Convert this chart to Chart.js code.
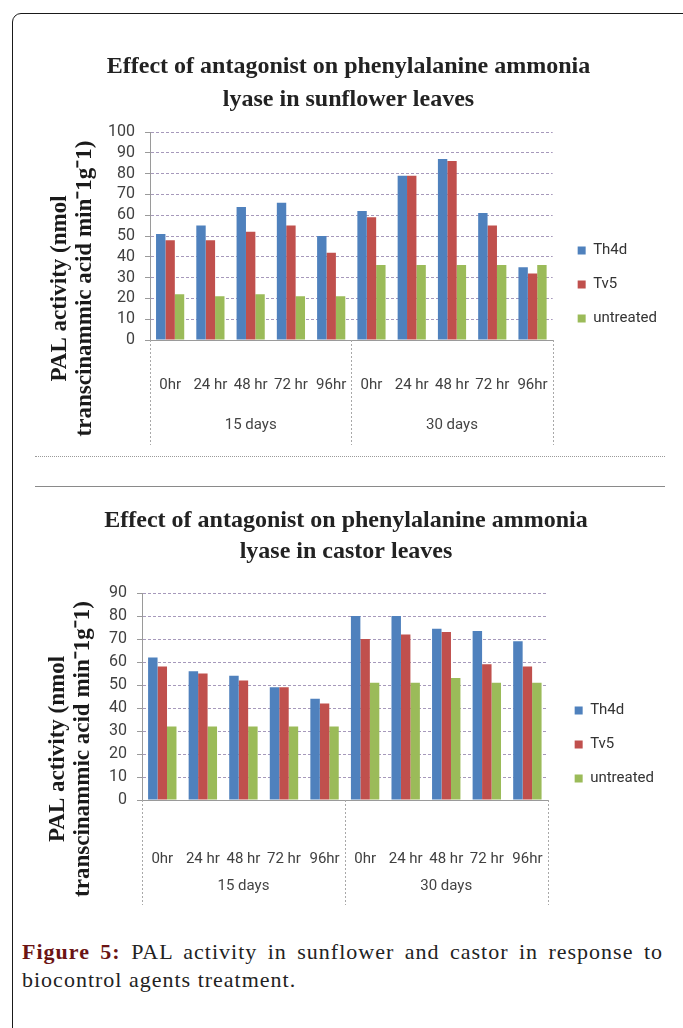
<!DOCTYPE html>
<html lang="en">
<head>
    <meta charset="UTF-8">
    <title>PAL activity in sunflower and castor</title>
    <script src="https://cdn.jsdelivr.net/npm/chart.js"></script>
    <style>
        body {
            margin: 0;
            width: 683px;
            height: 1028px;
            overflow: hidden;
            position: relative;
            background: #fff;
            font-family: 'Liberation Serif', 'Times New Roman', serif;
        }
        .frame {
            position: absolute;
            left: 12px;
            top: 13px;
            width: 740px;
            height: 1100px;
            border: 1.5px solid #1a1a1a;
            border-radius: 9px;
        }
        .chart-box {
            position: absolute;
            left: 0;
            width: 683px;
        }
        #box1 { top: 40px; height: 420px; }
        #box2 { top: 495px; height: 420px; }
        .rule1 {
            position: absolute;
            left: 35px;
            width: 630px;
            top: 456px;
            border-top: 1px dotted #9a9a9a;
        }
        .rule2 {
            position: absolute;
            left: 35px;
            width: 630px;
            top: 486px;
            border-top: 1px solid #8a8a8a;
        }
        .caption {
            position: absolute;
            left: 22px;
            top: 938px;
            width: 641px;
            font-size: 22px;
            line-height: 28px;
            letter-spacing: 1px;
            text-align: justify;
            color: #222;
        }
        .caption b { color: #6b1414; }
    </style>
</head>
<body>
    <div class="frame"></div>
    <div class="chart-box" id="box1"><canvas id="sunChart"></canvas></div>
    <div class="rule1"></div>
    <div class="rule2"></div>
    <div class="chart-box" id="box2"><canvas id="castorChart"></canvas></div>
    <div class="caption"><b>Figure 5:</b> PAL activity in sunflower and castor in response to biocontrol agents treatment.</div>

    <script>
        // categories
        const hours = ['0hr', '24 hr', '48 hr', '72 hr', '96hr', '0hr', '24 hr', '48 hr', '72 hr', '96hr'];
        const groups = ['15 days', '30 days'];
        const groupSize = 5;
        const seriesNames = ['Th4d', 'Tv5', 'untreated'];
        const seriesColors = ['#4F81BD', '#C0504D', '#9BBB59'];

        // sunflower leaves
        const sunTh4d = [51, 55, 64, 66, 50, 62, 79, 87, 61, 35];
        const sunTv5 = [48, 48, 52, 55, 42, 59, 79, 86, 55, 32];
        const sunUntreated = [22, 21, 22, 21, 21, 36, 36, 36, 36, 36];

        // castor leaves
        const castTh4d = [62, 56, 54, 49, 44, 80, 80, 74.5, 73.5, 69];
        const castTv5 = [58, 55, 52, 49, 42, 70, 72, 73, 59, 58];
        const castUntreated = [32, 32, 32, 32, 32, 51, 51, 53, 51, 51];

        const yTitle = ['PAL activity (nmol', 'transcinammic acid min\u207B1g\u207B1)'];
        const narrow = "'Liberation Sans Narrow', 'Roboto', sans-serif";

        // multi-level category axis, y title, legend/title nudge
        const excelAxis = {
            id: 'excelAxis',
            afterLayout(chart, args, opts) {
                const lg = chart.legend;
                if (lg) {
                    lg.left += opts.legendDx; lg.right += opts.legendDx;
                    lg.top += opts.legendDy; lg.bottom += opts.legendDy;
                }
                const tb = chart.titleBlock;
                if (tb) { tb.left += opts.titleDx; tb.right += opts.titleDx; }
            },
            afterDraw(chart, args, opts) {
                const { ctx, chartArea } = chart;
                const x = chart.scales.x;
                const half = (x.getPixelForValue(1) - x.getPixelForValue(0)) / 2;
                ctx.save();
                ctx.strokeStyle = '#a8a8a8';
                ctx.lineWidth = 1;
                ctx.setLineDash([2, 2]);
                for (let g = 0; g <= groups.length; g++) {
                    const i = g * groupSize;
                    const px = i < hours.length ? x.getPixelForValue(i) - half : x.getPixelForValue(hours.length - 1) + half;
                    ctx.beginPath();
                    ctx.moveTo(Math.round(px) + 0.5, chartArea.bottom);
                    ctx.lineTo(Math.round(px) + 0.5, chartArea.bottom + opts.axisDepth);
                    ctx.stroke();
                }
                ctx.setLineDash([]);
                ctx.fillStyle = '#444';
                ctx.font = '15px ' + narrow;
                ctx.textAlign = 'center';
                ctx.textBaseline = 'middle';
                groups.forEach((g, k) => {
                    const a = x.getPixelForValue(k * groupSize) - half;
                    const b = x.getPixelForValue(k * groupSize + groupSize - 1) + half;
                    ctx.fillText(g, (a + b) / 2, chartArea.bottom + opts.groupOffset);
                });
                // rotated y-axis title
                const cy = chartArea.top + (chartArea.bottom + opts.axisDepth - chartArea.top) / 2;
                ctx.fillStyle = '#1a1a1a';
                ctx.font = 'bold ' + opts.titleSize + "px 'Liberation Serif', serif";
                yTitle.forEach((line, k) => {
                    ctx.save();
                    ctx.translate(opts.titleX[k], cy);
                    ctx.rotate(-Math.PI / 2);
                    ctx.fillText(line, 0, 0);
                    ctx.restore();
                });
                ctx.restore();
            }
        };

        function makeChart(id, title, values, cfg) {
            const ctx = document.getElementById(id).getContext('2d');
            return new Chart(ctx, {
                type: 'bar',
                data: {
                    labels: hours,
                    datasets: seriesNames.map((name, i) => ({
                        label: name,
                        data: values[i],
                        backgroundColor: seriesColors[i],
                        borderWidth: 0,
                        barPercentage: 1.0,
                        categoryPercentage: 0.7
                    }))
                },
                options: {
                    responsive: true,
                    maintainAspectRatio: false,
                    animation: false,
                    layout: { padding: { left: 0, right: cfg.padRight, top: 0, bottom: cfg.padBottom } },
                    scales: {
                        x: {
                            grid: { display: false },
                            border: { display: true, color: '#9a9a9a' },
                            ticks: { color: '#404040', font: { family: narrow, size: 15 }, padding: cfg.tickPad, maxRotation: 0, autoSkip: false },
                            afterFit: (s) => { s.height = cfg.axisDepth; }
                        },
                        y: {
                            min: 0,
                            max: cfg.yMax,
                            grid: { color: 'rgba(150,135,175,0.85)', tickLength: 5, tickColor: '#9a9a9a' },
                            border: { display: true, color: '#9a9a9a', dash: [3, 2] },
                            ticks: { stepSize: 10, autoSkip: false, color: '#404040', font: { family: narrow, size: 16 }, padding: 10 },
                            afterFit: (s) => { s.width = cfg.axisLeft; }
                        }
                    },
                    plugins: {
                        title: {
                            display: true,
                            text: title,
                            color: '#222',
                            font: { family: "'Liberation Serif', serif", weight: 'bold', size: 24, lineHeight: cfg.titleLine / 24 },
                            padding: { top: cfg.titleTop, bottom: cfg.titleBottom }
                        },
                        legend: {
                            position: 'right',
                            labels: {
                                boxWidth: 8,
                                boxHeight: 8,
                                padding: 19,
                                color: '#333',
                                font: { family: narrow, size: 15 }
                            }
                        },
                        tooltip: { enabled: false },
                        excelAxis: {
                            legendDx: cfg.legendDx,
                            legendDy: cfg.legendDy,
                            titleDx: 18,
                            axisDepth: cfg.axisDepth,
                            groupOffset: cfg.groupOffset,
                            titleSize: cfg.yTitleSize,
                            titleX: cfg.yTitleX
                        }
                    }
                },
                plugins: [excelAxis]
            });
        }

        makeChart('sunChart',
            ['Effect of antagonist on phenylalanine ammonia', 'lyase in sunflower leaves'],
            [sunTh4d, sunTv5, sunUntreated],
            { yMax: 100, axisLeft: 150, padRight: 22, padBottom: 15, axisDepth: 105, tickPad: 28, groupOffset: 85,
              titleLine: 33, titleTop: 10.5, titleBottom: 15.5, legendDx: 6, legendDy: 42,
              yTitleSize: 23, yTitleX: [60, 85] });

        makeChart('castorChart',
            ['Effect of antagonist on phenylalanine ammonia', 'lyase in castor leaves'],
            [castTh4d, castTv5, castUntreated],
            { yMax: 90, axisLeft: 142, padRight: 27, padBottom: 10, axisDepth: 105, tickPad: 42, groupOffset: 86,
              titleLine: 31, titleTop: 10.5, titleBottom: 25.5, legendDx: 8, legendDy: 44.5,
              yTitleSize: 23, yTitleX: [58, 83] });
    </script>
</body>
</html>
